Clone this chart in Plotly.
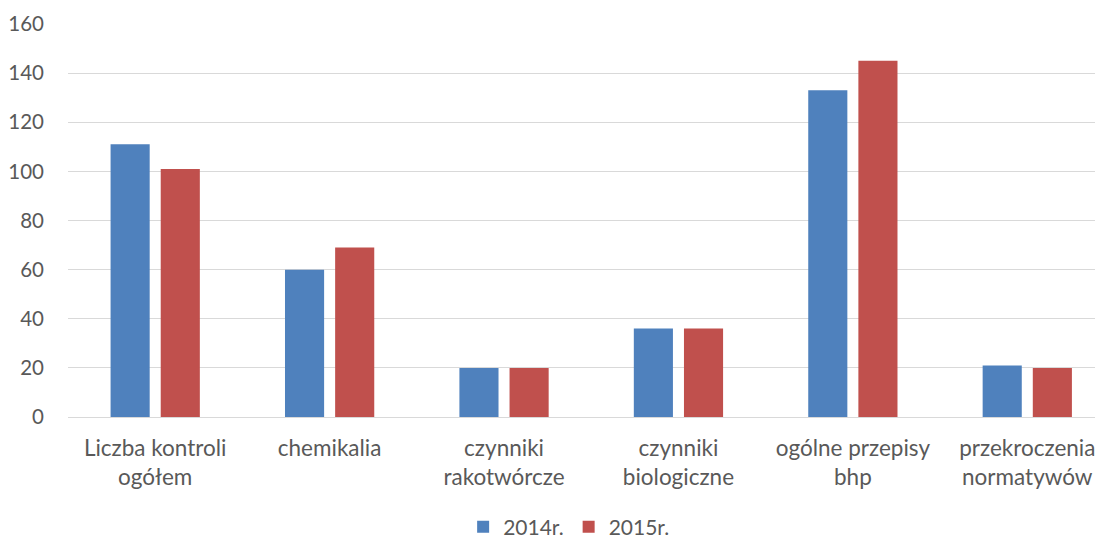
import plotly.graph_objects as go

categories = ["Liczba kontroli<br>ogółem", "chemikalia", "czynniki<br>rakotwórcze",
              "czynniki<br>biologiczne", "ogólne przepisy<br>bhp", "przekroczenia<br>normatywów"]
values_2014 = [111, 60, 20, 36, 133, 21]
values_2015 = [101, 69, 20, 36, 145, 20]
series_names = ["2014r.", "2015r."]
y_ticks = [0, 20, 40, 60, 80, 100, 120, 140, 160]

font_family = "Lato, 'Open Sans', sans-serif"
grey = "#595959"

fig = go.Figure()
fig.add_trace(go.Bar(x=categories, y=values_2014, name=series_names[0],
                     marker=dict(color="#4f81bd", line=dict(width=0))))
fig.add_trace(go.Bar(x=categories, y=values_2015, name=series_names[1],
                     marker=dict(color="#c0504d", line=dict(width=0))))

fig.update_layout(
    width=1103, height=537,
    margin=dict(l=60, r=0, t=16, b=128, autoexpand=False),
    paper_bgcolor="white", plot_bgcolor="white",
    barmode="group", bargap=0.425, bargroupgap=0.22,
    font=dict(family=font_family, size=21, color=grey),
    showlegend=True,
    legend=dict(orientation="h", x=0.48, xanchor="center", yref="paper",
                y=-0.28, yanchor="middle", tracegroupgap=0,
                font=dict(size=21, color=grey), itemwidth=30, traceorder="normal"),
    xaxis=dict(range=[-0.5, 5.48], showgrid=False, showline=False, ticks="",
               automargin=False, ticklabelstandoff=15,
               tickfont=dict(size=22.5, color=grey)),
    yaxis=dict(range=[0, 160], tickvals=y_ticks, showgrid=True, gridcolor="#d9d9d9",
               gridwidth=1, zeroline=True, zerolinecolor="#d9d9d9", zerolinewidth=1,
               showline=False, ticks="", ticklabelstandoff=23, automargin=False,
               tickfont=dict(size=20.5, color=grey)),
)

fig.write_html("out.html")
